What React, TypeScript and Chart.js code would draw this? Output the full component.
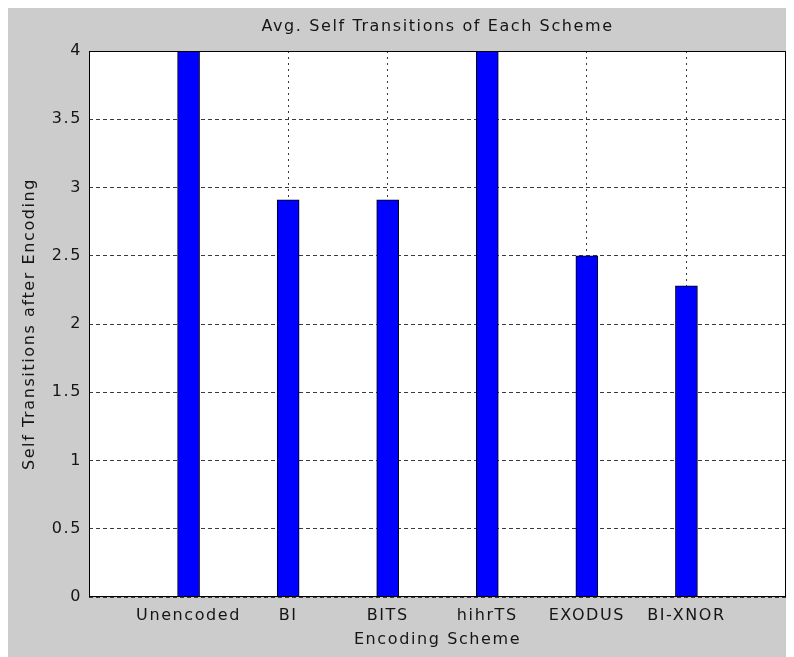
import React, { useEffect, useRef } from "react";
import { Chart, registerables } from "chart.js";

Chart.register(...registerables);

// Encoding schemes along the x axis
const categories = ["Unencoded", "BI", "BITS", "hihrTS", "EXODUS", "BI-XNOR"];
// Average self transitions after encoding, one value per scheme
const selfTransitions = [4, 2.91, 2.91, 4, 2.5, 2.28];
// Value axis range and step
const yMin = 0;
const yMax = 4;
const yStep = 0.5;

const chartTitle = "Avg. Self Transitions of Each Scheme";
const xTitle = "Encoding Scheme";
const yTitle = "Self Transitions after Encoding";

const FONT_FAMILY = "'DejaVu Sans', 'Liberation Sans', sans-serif";
const FONT_SIZE = 16;
const LETTER_SPACING = "1.6px";
const TEXT_COLOR = "#151515";
const GRID_COLOR = "#3a3a3a";

const W = 786;
const H = 649;

// Matlab-like figure: white axes box on a grey figure, black frame around the
// plot area, and the title centred over the axes rather than the whole figure
const framePlugin = {
  id: "axesFrame",
  beforeUpdate(chart: any) {
    chart.ctx.letterSpacing = LETTER_SPACING;
  },
  beforeDraw(chart: any) {
    const { ctx, chartArea } = chart;
    ctx.letterSpacing = LETTER_SPACING;
    ctx.save();
    ctx.fillStyle = "#ffffff";
    ctx.fillRect(
      chartArea.left,
      chartArea.top,
      chartArea.right - chartArea.left,
      chartArea.bottom - chartArea.top
    );
    ctx.restore();
  },
  afterDraw(chart: any) {
    const { ctx, chartArea } = chart;
    ctx.save();
    ctx.strokeStyle = "#000";
    ctx.lineWidth = 1;
    const l = Math.round(chartArea.left) + 0.5;
    const t = Math.round(chartArea.top) + 0.5;
    const r = Math.round(chartArea.right) - 0.5;
    const b = Math.round(chartArea.bottom) - 0.5;
    ctx.strokeRect(l, t, r - l, b - t);

    ctx.fillStyle = TEXT_COLOR;
    ctx.font = `normal ${FONT_SIZE}px ${FONT_FAMILY}`;
    ctx.textAlign = "center";
    ctx.textBaseline = "middle";
    ctx.fillText(chartTitle, (chartArea.left + chartArea.right) / 2, 19);
    ctx.restore();
  },
};

export default function App() {
  const canvasRef = useRef<HTMLCanvasElement | null>(null);

  useEffect(() => {
    document.body.style.overflow = "hidden";
    const canvas = canvasRef.current;
    if (!canvas) return;

    const font = { family: FONT_FAMILY, size: FONT_SIZE, lineHeight: 1.2 };

    const chart = new Chart(canvas, {
      type: "bar",
      data: {
        datasets: [
          {
            data: selfTransitions.map((v, i) => ({ x: i + 1, y: v })),
            backgroundColor: "#0000ff",
            borderColor: "#000000",
            borderWidth: 1,
            barThickness: 22,
          },
        ],
      },
      options: {
        responsive: false,
        animation: false,
        devicePixelRatio: 1,
        layout: { padding: { left: 0, right: 8, top: 43, bottom: 0 } },
        plugins: {
          legend: { display: false },
          tooltip: { enabled: false },
          title: { display: false },
        },
        scales: {
          x: {
            type: "linear",
            offset: false,
            min: 0,
            max: categories.length + 1,
            afterBuildTicks: (axis: any) => {
              axis.ticks = categories.map((_, i) => ({ value: i + 1 }));
            },
            afterFit: (scale: any) => {
              scale.height = 60;
            },
            ticks: {
              color: TEXT_COLOR,
              font,
              padding: 9,
              maxRotation: 0,
              autoSkip: false,
              callback: (value: any) => categories[Number(value) - 1] ?? "",
            },
            grid: {
              offset: false,
              color: GRID_COLOR,
              lineWidth: 1,
              drawTicks: false,
            },
            border: { display: false, dash: [2, 4] },
            title: {
              display: true,
              text: xTitle,
              color: TEXT_COLOR,
              font,
              padding: { top: 0, bottom: 7.5 },
            },
          },
          y: {
            min: yMin,
            max: yMax,
            afterFit: (scale: any) => {
              scale.width = 81;
            },
            ticks: {
              stepSize: yStep,
              color: TEXT_COLOR,
              font,
              padding: 7,
              callback: (value: any) => String(Number(value)),
            },
            grid: {
              color: GRID_COLOR,
              lineWidth: 1,
              drawTicks: false,
            },
            border: { display: false, dash: [4, 3] },
            title: {
              display: true,
              text: yTitle,
              color: TEXT_COLOR,
              font,
              padding: { top: 12.5, bottom: 0 },
            },
          },
        },
      },
      plugins: [framePlugin],
    } as any);

    return () => {
      chart.destroy();
    };
  }, []);

  return (
    <div style={{ width: W, height: H, background: "#cccccc" }}>
      <canvas
        ref={canvasRef}
        width={W}
        height={H}
        style={{ display: "block", width: W, height: H }}
      />
    </div>
  );
}
